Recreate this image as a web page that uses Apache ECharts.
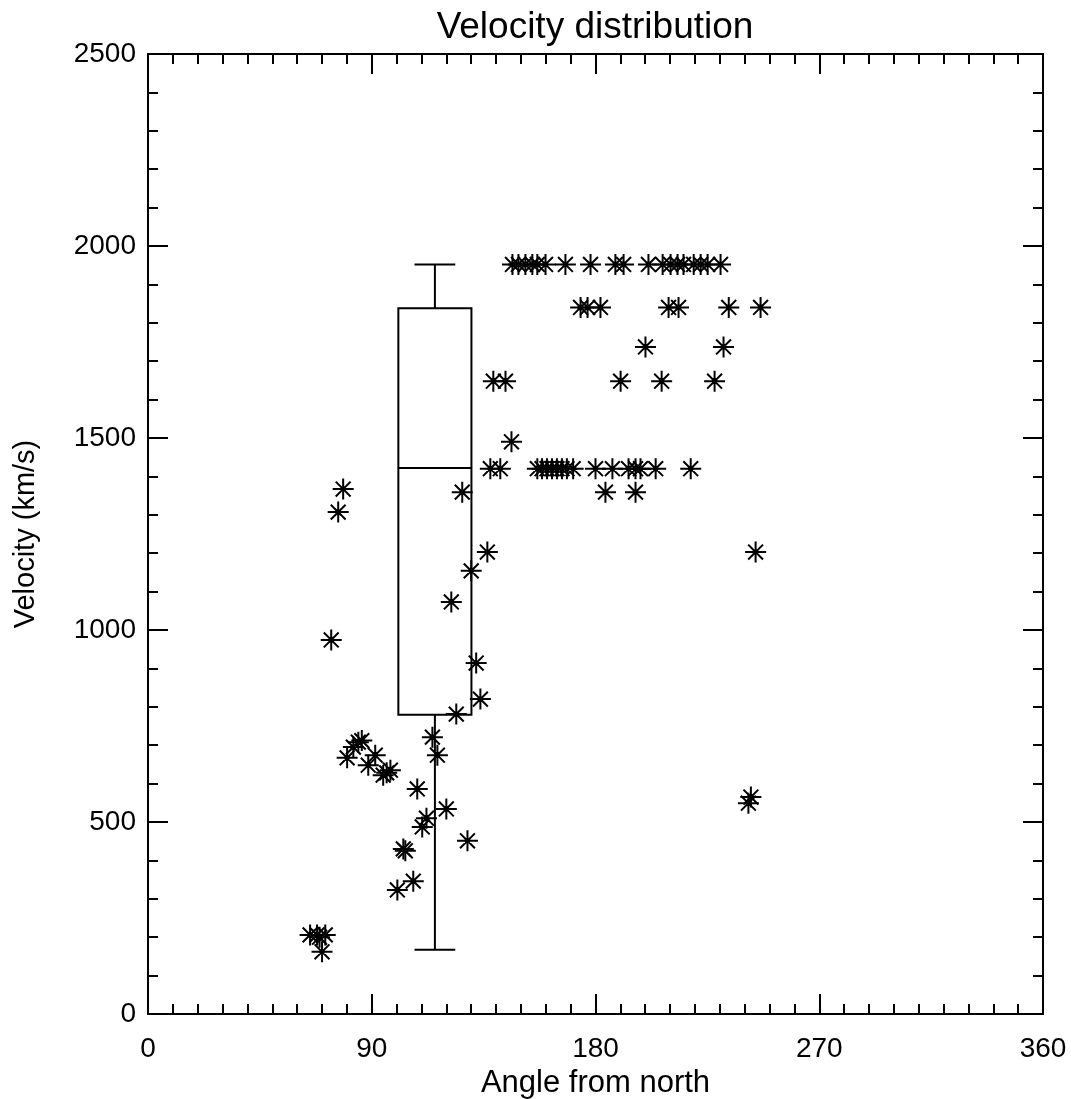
<!DOCTYPE html>
<html>
<head>
<meta charset="utf-8">
<script src="https://cdn.jsdelivr.net/npm/echarts@6/dist/echarts.min.js"></script>
<style>html,body{margin:0;padding:0;background:#fff}#c{width:1071px;height:1099px}</style>
</head>
<body>
<div id="c"></div>
<script>
// ---- data ----
const titleText = "Velocity distribution";
const xName = "Angle from north";
const yName = "Velocity (km/s)";
const xTicks = [0, 90, 180, 270, 360];
const yTicks = [0, 500, 1000, 1500, 2000, 2500];

// scatter points: angle (deg) and velocity (km/s)
const angles = [
  146.6, 149, 151.8, 154.6, 156.6, 159.9, 167.9, 178, 188, 191.3, 201.3, 207, 210.2, 213, 215.4, 219.5, 222.3, 225.1, 230.3,
  174, 176.8, 182, 209.4, 213.4, 233.6, 246.4,
  200.1, 231.5,
  138.9, 143.8, 190.1, 206.6, 227.9,
  146.2,
  137.7, 141.7, 156.6, 158.5, 160.5, 162.5, 164.5, 166.5, 168.5, 171, 180, 186.8, 193.3, 196.1, 198.1, 204.2, 218.3,
  184, 196.1,
  126.4, 78.5, 76.5, 136.5, 130, 122, 73.7, 132, 133.7, 124, 114.4, 116.4,
  84.6, 86, 82.6, 80.1, 91.4, 88.6, 94.6, 97.5, 96,
  108.3, 120, 112, 110.3, 128.5, 102.7, 103.5, 106.7, 100.3,
  65.2, 68, 71.3, 69, 70,
  244.4, 241.5, 242.5
];
const velocities = [
  1952, 1952, 1952, 1952, 1952, 1952, 1952, 1952, 1952, 1952, 1952, 1952, 1952, 1952, 1952, 1952, 1952, 1952, 1952,
  1840, 1840, 1840, 1840, 1840, 1840, 1840,
  1737, 1737,
  1648, 1648, 1648, 1648, 1648,
  1490,
  1420, 1420, 1420, 1420, 1420, 1420, 1420, 1420, 1420, 1420, 1420, 1420, 1420, 1420, 1420, 1420, 1420,
  1359, 1359,
  1359, 1367, 1307, 1203, 1154, 1073, 974, 914, 820, 781, 721, 674,
  708, 712, 695, 667, 674, 648, 622, 635, 628,
  586, 534, 510, 487, 451, 430, 425, 346, 323,
  206, 206, 206, 200, 162,
  1203, 549, 565
];

// box plot summary: [min, q1, median, q3, max]
const boxStats = [167, 779, 1422, 1838, 1952];
const boxCenter = 115.4;
const boxHalfWidth = 14.7;
const capHalfWidth = 8.2;

// ---- chart ----
const FONT = "'Liberation Sans',Arial,sans-serif";
const pts = angles.map((a, i) => [a, velocities[i]]);
const star = 'path://M0,-10L0,10M-10,0L10,0M-7.07,-7.07L7.07,7.07M-7.07,7.07L7.07,-7.07M-1.8,0a1.8,1.8 0 1,0 3.6,0a1.8,1.8 0 1,0 -3.6,0Z';

function axis(type, pos, min, max, interval, minorSplit, showLabel) {
  return {
    type: type, position: pos, min: min, max: max, interval: interval,
    axisLine: {show: true, onZero: false, lineStyle: {color: '#000', width: 2}},
    axisTick: {show: true, inside: true, length: 20, lineStyle: {color: '#000', width: 2}},
    minorTick: {show: true, splitNumber: minorSplit, length: 10, lineStyle: {color: '#000', width: 2}},
    splitLine: {show: false},
    minorSplitLine: {show: false},
    axisLabel: {show: showLabel, color: '#000', fontSize: 28, fontFamily: FONT,
      formatter: function (v) { return String(v); }}
  };
}

const xBottom = axis('value', 'bottom', xTicks[0], xTicks[xTicks.length - 1], 90, 9, true);
xBottom.axisLabel.margin = 21;
xBottom.name = xName;
xBottom.nameLocation = 'middle';
xBottom.nameGap = 45;
xBottom.nameTextStyle = {fontSize: 31, color: '#000', fontFamily: FONT};
const xTop = axis('value', 'top', xTicks[0], xTicks[xTicks.length - 1], 90, 9, false);

const yLeft = axis('value', 'left', yTicks[0], yTicks[yTicks.length - 1], 500, 5, true);
yLeft.axisLabel.margin = 12;
yLeft.name = yName;
yLeft.nameLocation = 'middle';
yLeft.nameGap = 108;
yLeft.nameTextStyle = {fontSize: 29, color: '#000', fontFamily: FONT};
const yRight = axis('value', 'right', yTicks[0], yTicks[yTicks.length - 1], 500, 5, false);

const chart = echarts.init(document.getElementById('c'), null, {renderer: 'canvas'});
chart.setOption({
  backgroundColor: '#fff',
  animation: false,
  title: {
    text: titleText, left: 590, top: 4, textAlign: 'center',
    textStyle: {fontSize: 37, fontWeight: 'normal', color: '#000', fontFamily: FONT}
  },
  grid: {left: 148, right: 28, top: 54, bottom: 85, containLabel: false, outerBoundsMode: 'none'},
  xAxis: [xBottom, xTop],
  yAxis: [yLeft, yRight],
  series: [
    {
      type: 'custom',
      xAxisIndex: 0, yAxisIndex: 0,
      data: [[boxCenter].concat(boxStats)],
      renderItem: function (params, api) {
        const c = api.value(0);
        const lo = api.coord([c, api.value(1)]);
        const q1L = api.coord([c - boxHalfWidth, api.value(2)]);
        const q1R = api.coord([c + boxHalfWidth, api.value(2)]);
        const med = api.coord([c, api.value(3)]);
        const q3L = api.coord([c - boxHalfWidth, api.value(4)]);
        const hi = api.coord([c, api.value(5)]);
        const capL = api.coord([c - capHalfWidth, 0])[0];
        const capR = api.coord([c + capHalfWidth, 0])[0];
        const st = {stroke: '#000', lineWidth: 2, fill: null};
        return {
          type: 'group',
          children: [
            {type: 'rect', shape: {x: q3L[0], y: q3L[1], width: q1R[0] - q1L[0], height: q1L[1] - q3L[1]}, style: st},
            {type: 'line', shape: {x1: q1L[0], y1: med[1], x2: q1R[0], y2: med[1]}, style: st},
            {type: 'line', shape: {x1: lo[0], y1: lo[1], x2: lo[0], y2: q1L[1]}, style: st},
            {type: 'line', shape: {x1: hi[0], y1: hi[1], x2: hi[0], y2: q3L[1]}, style: st},
            {type: 'line', shape: {x1: capL, y1: lo[1], x2: capR, y2: lo[1]}, style: st},
            {type: 'line', shape: {x1: capL, y1: hi[1], x2: capR, y2: hi[1]}, style: st}
          ]
        };
      },
      z: 2
    },
    {
      type: 'scatter',
      xAxisIndex: 0, yAxisIndex: 0,
      data: pts,
      symbol: star,
      symbolSize: 21,
      itemStyle: {color: '#000', borderColor: '#000', borderWidth: 2, opacity: 1},
      emphasis: {disabled: true},
      z: 3
    }
  ]
});
</script>
</body>
</html>
